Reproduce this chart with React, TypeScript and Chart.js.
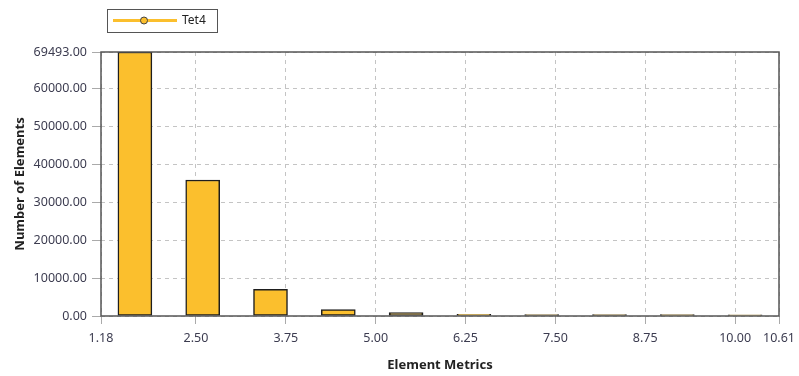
import React, { useEffect, useRef } from "react";
import { Chart, registerables } from "chart.js";

Chart.register(...registerables);

const seriesName = "Tet4";
const binCenters = [1.6515, 2.5945, 3.5375, 4.4805, 5.4235, 6.3665, 7.3095, 8.2525, 9.1955, 10.1385];
const counts = [69493, 35800, 7050, 1690, 900, 450, 400, 380, 360, 340];
const xTicks = [1.18, 2.5, 3.75, 5.0, 6.25, 7.5, 8.75, 10.0, 10.61];
const yTicks = [0, 10000, 20000, 30000, 40000, 50000, 60000, 69493];
const xTitle = "Element Metrics";
const yTitle = "Number of Elements";

const FONT = "'Noto Sans', 'Open Sans', sans-serif";
const BAR = "#fbbf2d";
const TICK_COLOR = "#3c3c50";

const framePlugin = {
  id: "frame",
  afterDatasetsDraw(chart: any) {
    const { ctx, chartArea: a } = chart;
    ctx.save();
    ctx.strokeStyle = "#555555";
    ctx.lineWidth = 1.5;
    ctx.strokeRect(a.left, a.top, a.right - a.left, a.bottom - a.top);
    ctx.restore();
  },
  afterDraw(chart: any) {
    const { ctx } = chart;
    ctx.save();
    ctx.strokeStyle = "#555555";
    ctx.lineWidth = 1;
    ctx.strokeRect(107.5, 9.5, 110, 23);
    ctx.strokeStyle = BAR;
    ctx.lineWidth = 3;
    ctx.beginPath();
    ctx.moveTo(113, 20.5);
    ctx.lineTo(177, 20.5);
    ctx.stroke();
    ctx.beginPath();
    ctx.arc(144, 20.5, 3.5, 0, Math.PI * 2);
    ctx.fillStyle = BAR;
    ctx.fill();
    ctx.strokeStyle = "#444444";
    ctx.lineWidth = 1;
    ctx.stroke();
    ctx.fillStyle = "#222222";
    ctx.font = `12px ${FONT}`;
    ctx.textBaseline = "middle";
    ctx.textAlign = "left";
    ctx.fillText(seriesName, 182, 20.5);
    ctx.restore();
  },
};

export default function App() {
  const ref = useRef<HTMLCanvasElement | null>(null);
  useEffect(() => {
    document.body.style.margin = "0";
    const canvas = ref.current;
    if (!canvas) return;
    const chart = new Chart(canvas, {
      type: "bar",
      data: {
        datasets: [
          {
            label: seriesName,
            data: binCenters.map((x, i) => ({ x, y: counts[i] })),
            backgroundColor: BAR,
            borderColor: "#1e1e1e",
            borderWidth: 1.5,
            borderSkipped: false,
            barThickness: 34,
          },
        ],
      },
      options: {
        animation: false,
        responsive: false,
        maintainAspectRatio: false,
        layout: { padding: { top: 52, right: 20, left: 0, bottom: 0 } },
        plugins: { legend: { display: false }, tooltip: { enabled: false } },
        scales: {
          x: {
            type: "linear",
            min: 1.18,
            max: 10.61,
            offset: false,
            afterBuildTicks: (s: any) => {
              s.ticks = xTicks.map((v) => ({ value: v }));
            },
            afterFit: (s: any) => {
              s.height = 60;
              s.paddingLeft = 0;
              s.paddingRight = 0;
            },
            ticks: {
              autoSkip: false,
              maxRotation: 0,
              padding: 7,
              color: TICK_COLOR,
              font: { family: FONT, size: 12.5 },
              callback: (v: any) => Number(v).toFixed(2),
            },
            grid: {
              offset: false,
              color: "#c4c4c4",
              lineWidth: 1,
              tickLength: 8,
              tickColor: "#aaaaaa",
              tickBorderDash: [],
            },
            border: { display: false, dash: [4, 4] },
            title: {
              display: true,
              text: xTitle,
              color: "#222222",
              font: { family: FONT, size: 13, weight: "bold" },
              padding: { top: 0, bottom: 3 },
            },
          },
          y: {
            type: "linear",
            min: 0,
            max: 69493,
            afterBuildTicks: (s: any) => {
              s.ticks = yTicks.map((v) => ({ value: v }));
            },
            afterFit: (s: any) => {
              s.width = 101;
              s.paddingTop = 0;
              s.paddingBottom = 0;
            },
            ticks: {
              autoSkip: false,
              padding: 5,
              color: TICK_COLOR,
              font: { family: FONT, size: 12.5 },
              callback: (v: any) => Number(v).toFixed(2),
            },
            grid: {
              color: "#c4c4c4",
              lineWidth: 1,
              tickLength: 9,
              tickColor: "#aaaaaa",
              tickBorderDash: [],
            },
            border: { display: false, dash: [4, 4] },
            title: {
              display: true,
              text: yTitle,
              color: "#222222",
              font: { family: FONT, size: 13, weight: "bold" },
              padding: { top: 12, bottom: 0 },
            },
          },
        },
      },
      plugins: [framePlugin],
    } as any);
    return () => chart.destroy();
  }, []);
  return <canvas ref={ref} width={799} height={376} style={{ display: "block" }} />;
}
